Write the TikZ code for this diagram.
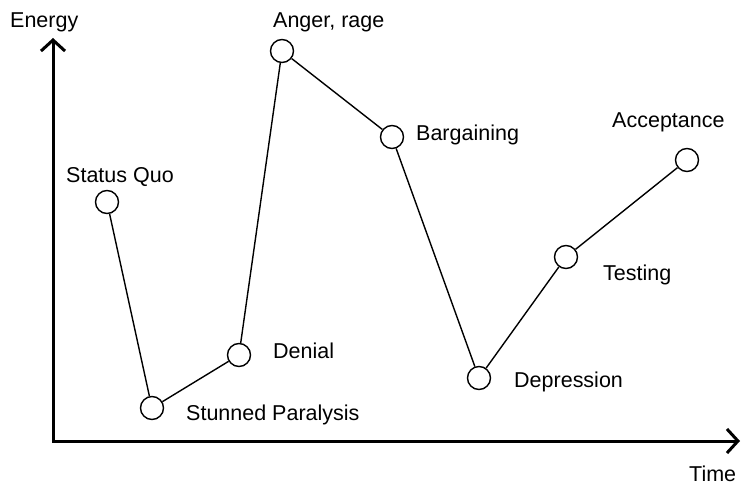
\documentclass[tikz,border=0pt]{standalone}
\usepackage{fontspec}
\setmainfont{Liberation Sans}
\usetikzlibrary{arrows.meta, positioning}

\begin{document}
\begin{tikzpicture}[x=1pt,y=-1pt,
  stage/.style={circle,draw,minimum size=23pt,inner sep=0pt,line width=1.4pt},
  txt/.style={inner sep=0pt,anchor=base west,font=\fontsize{21.5}{25}\selectfont},
  axis/.style={line width=3pt,{Straight Barb[length=11pt,width=24pt]}-{Straight Barb[length=11pt,width=24pt]}}]
  \useasboundingbox (0,0) rectangle (742,487);

  % axes
  \coordinate (o) at (53,441);
  \coordinate (ytop) at (53,38);
  \coordinate (xend) at (740,441);
  \draw[axis] (ytop) -- (o) -- (xend);
  \node[txt] (energy) at (10,28) {Energy};
  \node[txt] (time) at (689,481) {Time};

  % stages
  \node[stage] (sq) at (107,202) {};
  \node[stage] (sp) at (152,408) {};
  \node[stage] (den) at (239,355) {};
  \node[stage] (ang) at (282,51) {};
  \node[stage] (barg) at (392,137) {};
  \node[stage] (dep) at (479,378) {};
  \node[stage] (test) at (566,257) {};
  \node[stage] (acc) at (687,160) {};

  \node[txt] (sqlbl) at (66,182) {Status Quo};
  \node[txt] (splbl) at (186,420) {Stunned Paralysis};
  \node[txt] (denlbl) at (273,358) {Denial};
  \node[txt] (anglbl) at (273,28) {Anger, rage};
  \node[txt] (barglbl) at (416,140) {Bargaining};
  \node[txt] (deplbl) at (514,387) {Depression};
  \node[txt] (testlbl) at (603,280) {Testing};
  \node[txt] (acclbl) at (612,128) {Acceptance};

  \draw[line width=1.4pt] (sq) -- (sp) -- (den) -- (ang) -- (barg) -- (dep) -- (test) -- (acc);
\end{tikzpicture}
\end{document}
